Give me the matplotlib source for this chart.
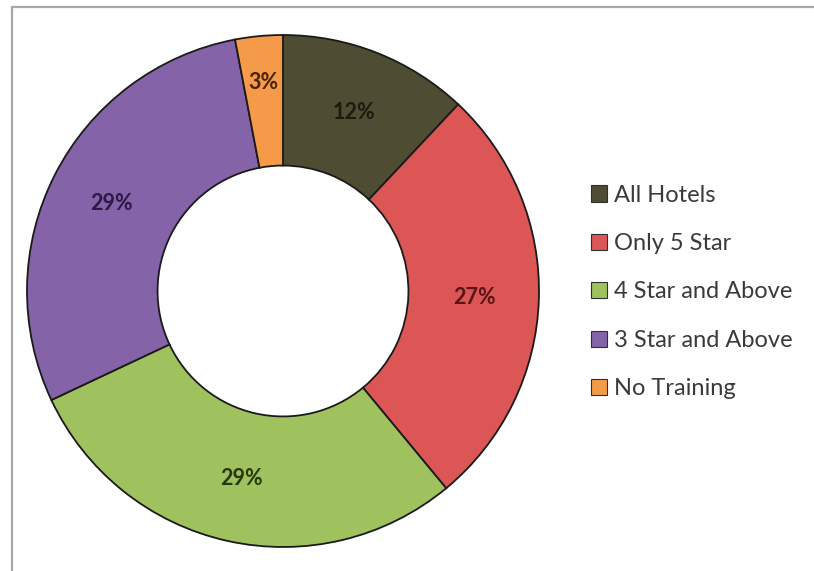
import matplotlib
matplotlib.use("Agg")
import matplotlib.pyplot as plt
from matplotlib.patches import Patch, Rectangle

# Training coverage shares
categories = ["All Hotels", "Only 5 Star", "4 Star and Above", "3 Star and Above", "No Training"]
shares = [12, 27, 29, 29, 3]
colors = ["#4e4c33", "#dc5656", "#9fc25e", "#8463a8", "#f59a48"]
label_colors = ["#1c1c0e", "#5c1414", "#24380c", "#2a1a44", "#4a2206"]

fig = plt.figure(figsize=(8.14, 5.71), dpi=100)
fig.patch.set_facecolor("white")

# outer chart frame
frame = Rectangle((12 / 814, -0.01), 1.0, (571 - 7) / 571 + 0.01,
                  transform=fig.transFigure, fill=False,
                  edgecolor="#a8a8a8", linewidth=1.6, clip_on=False)
fig.patches.append(frame)

ax = fig.add_axes([27 / 814, 24 / 571, 512 / 814, 512 / 571])
wedges, texts, autotexts = ax.pie(
    shares,
    colors=colors,
    startangle=90,
    counterclock=False,
    autopct="%d%%",
    pctdistance=0.75,
    wedgeprops=dict(width=0.51, edgecolor="#1a1a1a", linewidth=1.3),
    textprops=dict(fontfamily="Lato", fontweight="bold", fontsize=15.5),
)
for t, c in zip(autotexts, label_colors):
    t.set_color(c)
# the thin slice label sits a little further out
x, y = autotexts[-1].get_position()
autotexts[-1].set_position((x * 0.82 / 0.75, y * 0.82 / 0.75))

ax.set_xlim(-1.0, 1.0)
ax.set_ylim(-1.0, 1.0)
ax.set_aspect("equal")
ax.axis("off")

handles = [Patch(facecolor=c, edgecolor="#303030", linewidth=0.8) for c in colors]
fig.legend(handles, categories, loc="center left",
           bbox_to_anchor=(591 / 814, 1 - 292 / 571),
           frameon=False, borderpad=0, borderaxespad=0,
           handlelength=0.68, handleheight=0.68,
           handletextpad=0.28, labelspacing=1.16,
           prop=dict(family="Lato", size=17), labelcolor="#3a3a3a")

fig.savefig("out.png", dpi=100)
